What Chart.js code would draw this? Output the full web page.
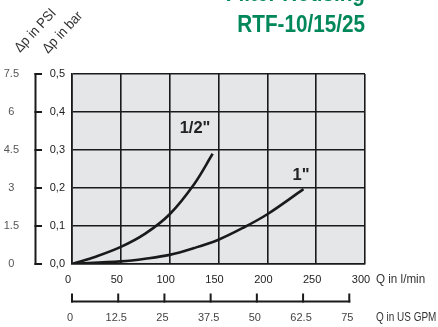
<!DOCTYPE html>
<html><head><meta charset="utf-8">
<script src="https://cdn.jsdelivr.net/npm/chart.js@4/dist/chart.umd.min.js"></script>
<style>html,body{margin:0;padding:0;background:#fff;overflow:hidden}canvas{display:block}</style>
</head><body>
<canvas id="c" width="438" height="327"></canvas>
<script>
// ---- data ----
const halfInchFlow = [0, 25, 50, 75, 100, 125, 144];
const halfInchDp   = [0, 0.02, 0.045, 0.08, 0.131, 0.21, 0.29];
const oneInchFlow  = [0, 50, 75, 100, 125, 150, 175, 200, 237];
const oneInchDp    = [0, 0.007, 0.014, 0.024, 0.042, 0.064, 0.095, 0.131, 0.197];
const seriesNames  = ['1/2"', '1"'];
const lpmTicks = [0, 50, 100, 150, 200, 250, 300];
const gpmTicks = [0, 12.5, 25, 37.5, 50, 62.5, 75];
const barTicks = [0, 0.1, 0.2, 0.3, 0.4, 0.5];
const psiTicks = [0, 1.5, 3, 4.5, 6, 7.5];
const titleLines = ['Filter Housing', 'RTF-10/15/25'];
const axisTitles = ['\u0394p in PSI', '\u0394p in bar', 'Q in l/min', 'Q in US GPM'];
const LPM_PER_GPM = 3.785411784;

const SANS = "'Liberation Sans', Arial, sans-serif";
const INK = '#1a1a1a';

const toPts = (xs, ys) => xs.map((x, i) => ({x, y: ys[i]}));

function condensedText(ctx, text, x, y, sx, rot) {
  ctx.save();
  ctx.translate(x, y);
  if (rot) ctx.rotate(rot);
  ctx.scale(sx, 1);
  ctx.fillText(text, 0, 0);
  ctx.restore();
}

const deco = {
  id: 'deco',
  beforeDraw(chart) {
    const {ctx, chartArea: a} = chart;
    ctx.save();
    ctx.fillStyle = '#e5e6e8';
    ctx.fillRect(a.left, a.top, a.right - a.left, a.bottom - a.top);
    ctx.restore();
  },
  afterDraw(chart) {
    const {ctx, chartArea: a, scales} = chart;
    const y = scales.y, x = scales.x, g = scales.x2;
    ctx.save();
    ctx.strokeStyle = INK;
    ctx.lineWidth = 2;
    // bar bracket
    const bx = 35.5;
    ctx.beginPath();
    ctx.moveTo(bx, y.getPixelForValue(barTicks[barTicks.length - 1]) - 1);
    ctx.lineTo(bx, y.getPixelForValue(barTicks[0]) + 1);
    ctx.stroke();
    barTicks.forEach(v => {
      const py = y.getPixelForValue(v);
      ctx.beginPath(); ctx.moveTo(bx - 1, py); ctx.lineTo(42, py); ctx.stroke();
    });
    // GPM bracket
    const gy = 301.5;
    ctx.beginPath();
    ctx.moveTo(g.getPixelForValue(gpmTicks[0]) - 1, gy);
    ctx.lineTo(g.getPixelForValue(gpmTicks[gpmTicks.length - 1]) + 1, gy);
    ctx.stroke();
    gpmTicks.forEach(v => {
      const px = g.getPixelForValue(v);
      ctx.beginPath(); ctx.moveTo(px, gy + 1); ctx.lineTo(px, gy - 8); ctx.stroke();
    });
    // unit texts
    ctx.fillStyle = '#333';
    ctx.font = "12px " + SANS;
    ctx.textBaseline = 'middle';
    ctx.textAlign = 'left';
    condensedText(ctx, axisTitles[2], 376, 280, 0.97);
    condensedText(ctx, axisTitles[3], 376, 318, 0.83);
    // rotated axis titles
    ctx.font = "14px " + SANS;
    ctx.fillStyle = '#333';
    ctx.textBaseline = 'alphabetic';
    condensedText(ctx, axisTitles[0], 20, 53, 0.92, -47 * Math.PI / 180);
    condensedText(ctx, axisTitles[1], 48, 54, 0.92, -47 * Math.PI / 180);
    // title
    ctx.fillStyle = '#00875a';
    ctx.font = "bold 23px " + SANS;
    ctx.textAlign = 'right';
    condensedText(ctx, titleLines[0], a.right, 1, 0.9);
    condensedText(ctx, titleLines[1], a.right, 31.5, 0.9);
    // curve labels
    ctx.fillStyle = '#222';
    ctx.font = "bold 16.5px " + SANS;
    ctx.textAlign = 'center';
    ctx.textBaseline = 'middle';
    const labelAt = [[126, 0.358], [234.5, 0.234]];
    seriesNames.forEach((n, i) => {
      ctx.fillText(n, x.getPixelForValue(labelAt[i][0]), y.getPixelForValue(labelAt[i][1]));
    });
    ctx.restore();
  }
};

const tickFont = {family: SANS, size: 11};

new Chart(document.getElementById('c'), {
  type: 'line',
  data: {
    datasets: [
      {label: seriesNames[0], data: toPts(halfInchFlow, halfInchDp)},
      {label: seriesNames[1], data: toPts(oneInchFlow, oneInchDp)}
    ]
  },
  options: {
    responsive: false,
    animation: false,
    devicePixelRatio: 1,
    layout: {padding: {top: 74, right: 73, left: 0, bottom: 0}},
    plugins: {legend: {display: false}, tooltip: {enabled: false}},
    elements: {
      line: {borderColor: INK, borderWidth: 2.6, tension: 0.35, fill: false},
      point: {radius: 0}
    },
    scales: {
      x: {
        type: 'linear', position: 'bottom', min: 0, max: 300, weight: 0,
        afterBuildTicks: s => { s.ticks = lpmTicks.map(v => ({value: v})); },
        afterFit: s => { s.height = 26; },
        grid: {color: INK, lineWidth: 1.6, drawTicks: false},
        border: {color: INK, width: 1.6},
        ticks: {color: '#222', font: tickFont, padding: 9, labelOffset: -4, maxRotation: 0, autoSkip: false}
      },
      x2: {
        type: 'linear', position: 'bottom', min: 0, max: 300 / LPM_PER_GPM, weight: 1,
        afterBuildTicks: s => { s.ticks = gpmTicks.map(v => ({value: v})); },
        afterFit: s => { s.height = 37; },
        grid: {display: false, drawTicks: false},
        border: {display: false},
        ticks: {color: '#444', font: tickFont, padding: 21, labelOffset: -2, maxRotation: 0, autoSkip: false,
                callback: v => String(v)}
      },
      y: {
        type: 'linear', position: 'left', min: 0, max: 0.5, weight: 0,
        afterBuildTicks: s => { s.ticks = barTicks.map(v => ({value: v})); },
        afterFit: s => { s.width = 36; },
        grid: {color: INK, lineWidth: 1.6, drawTicks: false},
        border: {color: INK, width: 1.6},
        ticks: {color: '#222', font: tickFont, padding: 7, callback: v => v.toFixed(1).replace('.', ',')}
      },
      y2: {
        type: 'linear', position: 'left', min: 0, max: 7.5, weight: 1,
        afterBuildTicks: s => { s.ticks = psiTicks.map(v => ({value: v})); },
        afterFit: s => { s.width = 36; },
        grid: {display: false, drawTicks: false},
        border: {display: false},
        ticks: {color: '#555', font: tickFont, padding: 17, crossAlign: 'center', callback: v => String(v)}
      }
    }
  },
  plugins: [deco]
});
</script>
</body></html>
